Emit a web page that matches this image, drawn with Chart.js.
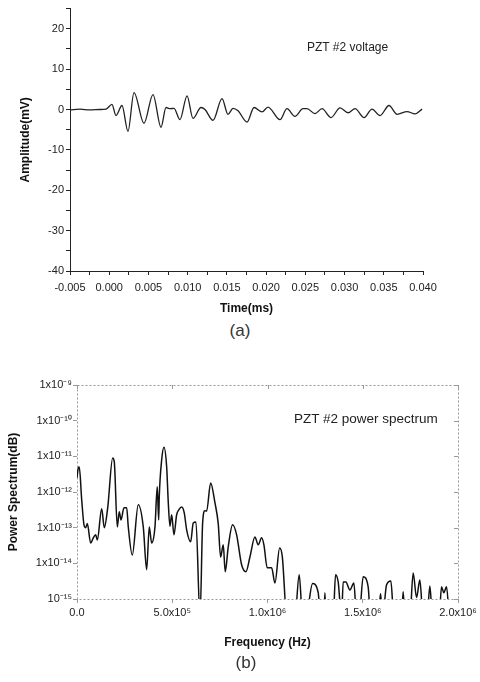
<!DOCTYPE html>
<html>
<head>
<meta charset="utf-8">
<script src="https://cdn.jsdelivr.net/npm/chart.js@4.4.1/dist/chart.umd.min.js"></script>
<style>
body { margin: 0; background: #fff; width: 480px; height: 682px; position: relative; overflow: hidden; font-family: "Liberation Sans", Arial, sans-serif; }
canvas { position: absolute; left: 0; }
.note { position: absolute; color: #222; white-space: nowrap; }
.cap { position: absolute; font-size: 17px; color: #333; transform: translateX(-50%); }
</style>
</head>
<body>
<canvas id="waveChart" width="480" height="320" style="top:0"></canvas>
<canvas id="spectrumChart" width="480" height="310" style="top:345px"></canvas>
<div class="note" style="left:307px;top:40px;font-size:12px">PZT #2 voltage</div>
<div class="note" style="left:294px;top:411px;font-size:13.5px">PZT #2 power spectrum</div>
<div class="cap" style="left:240px;top:321px">(a)</div>
<div class="cap" style="left:246px;top:653px">(b)</div>
<script>
// (a) time signal
const timeMs = [-0.005, -0.0037, -0.0025, -0.0012, -0.0004, 0.00035, 0.00086, 0.00163, 0.00239, 0.00316,
    0.00443, 0.00558, 0.0066, 0.00724, 0.00775, 0.00826, 0.00902, 0.00992, 0.01068, 0.0117,
    0.01221, 0.01323, 0.01438, 0.01514, 0.01578, 0.01642, 0.01757, 0.01846, 0.01948, 0.02024,
    0.02177, 0.02266, 0.02368, 0.0247, 0.02521, 0.02623, 0.02713, 0.02827, 0.02942, 0.03044,
    0.03134, 0.03248, 0.0335, 0.03452, 0.03567, 0.03669, 0.03797, 0.03899, 0.03989];
const amplitude = [-0.1, 0.1, -0.1, 0.0, 0.1, 1.3, -1.5, 1.0, -5.4, 4.2,
    -3.4, 3.7, -4.4, 0.5, 0.2, 0.3, -2.5, 3.4, -2.2, 0.5,
    0.0, -2.7, 2.7, -1.2, 0.3, -0.3, -3.1, 0.5, -0.6, 0.6,
    -2.5, 0.2, -1.7, 0.2, 0.2, -1.0, 0.2, -2.0, 0.4, -0.8,
    0.2, -2.0, 0.1, -1.5, 1.0, -1.2, -0.5, -1.1, 0.1];

// (b) power spectrum
const freqHz = [0, 6800, 12000, 24700, 36700, 45600, 54000, 71900, 85500, 98100,
    106500, 129600, 143200, 161100, 187300, 195700, 211500, 221900, 230900, 246600,
    260800, 269200, 290200, 321600, 347900, 365700, 379400, 391900, 409300, 421300,
    428700, 431800, 444400, 456500, 470700, 479000, 488000, 496900, 509000, 523100,
    535200, 549400, 563000, 575600, 596600, 610200, 624400, 645800, 659500, 671600,
    680500, 701500, 724100, 741400, 754000, 767600, 778100, 793900, 816900, 837900,
    864100, 886700, 907700, 934000, 951300, 969100, 981200, 998500, 1021600, 1039000,
    1063800, 1077400, 1101900, 1143800, 1166400, 1184200, 1201600, 1236700, 1266100, 1278700,
    1296000, 1301300, 1306500, 1344800, 1357400, 1371000, 1388900, 1397300, 1411400, 1432400,
    1453400, 1467600, 1481200, 1502200, 1528400, 1541000, 1580900, 1593500, 1604000, 1625000,
    1647600, 1663300, 1703700, 1712100, 1721000, 1747300, 1764600, 1782400, 1799700, 1817000,
    1838000, 1852200, 1866300, 1900900, 1913500, 1925600, 1939800, 1953400];
const power = [2.5e-12, 4.7e-12, 5.0e-12, 6.0e-13, 1.2e-13, 1.0e-13, 1.3e-13, 3.7e-14, 5.2e-14, 6.3e-14,
    4.5e-14, 3.4e-13, 1.0e-13, 3.6e-13, 9.0e-12, 7.0e-12, 1.05e-13, 2.8e-13, 1.65e-13, 3.6e-13,
    3.6e-13, 1.05e-13, 1.7e-14, 4.4e-13, 1.05e-13, 6.6e-15, 1.05e-13, 3.7e-14, 1.05e-13, 1.4e-12,
    1.65e-13, 7.3e-13, 7.9e-12, 1.8e-11, 5.0e-12, 5.3e-13, 1.1e-13, 2.3e-13, 6.3e-14, 2.3e-13,
    3.2e-13, 3.8e-13, 2.6e-13, 8.7e-14, 4.0e-14, 1.36e-13, 1.45e-13, 3e-16, 1.36e-13, 3.0e-13,
    2.9e-13, 1.8e-12, 5.0e-13, 1.3e-13, 1.5e-14, 3.3e-14, 5.8e-15, 2.9e-14, 1.2e-13, 6.3e-14,
    9.1e-15, 5.8e-15, 1.5e-14, 5.5e-14, 3.3e-14, 5.2e-14, 3.3e-14, 7.5e-15, 7.5e-15, 2.8e-15,
    2.7e-14, 1.6e-14, 3e-16, 3e-16, 4.8e-15, 3e-16, 3e-16, 2.7e-15, 1.5e-15, 3e-16,
    3e-16, 1.5e-15, 3e-16, 3e-16, 4.8e-15, 3.0e-15, 3e-16, 3.0e-15, 3.0e-15, 1.8e-15,
    2.8e-15, 3e-16, 3e-16, 4.2e-15, 2.2e-15, 3e-16, 3e-16, 1.4e-15, 3e-16, 2.5e-15,
    3.2e-15, 3e-16, 3e-16, 1.6e-15, 3e-16, 3e-16, 5.4e-15, 1.1e-15, 3.4e-15, 3e-16,
    3e-16, 2.3e-15, 3e-16, 3e-16, 2.2e-15, 1.5e-15, 2.2e-15, 3e-16];

const powerTicks = [1e-15, 1e-14, 1e-13, 1e-12, 1e-11, 1e-10, 1e-9];
const powerTickLabels = ["10⁻¹⁵", "1x10⁻¹⁴", "1x10⁻¹³", "1x10⁻¹²", "1x10⁻¹¹", "1x10⁻¹⁰", "1x10⁻⁹"];
const freqTicks = [0, 500000, 1000000, 1500000, 2000000];
const freqTickLabels = ["0.0", "5.0x10⁵", "1.0x10⁶", "1.5x10⁶", "2.0x10⁶"];

Chart.defaults.font.family = '"Liberation Sans", Arial, sans-serif';
Chart.defaults.font.size = 11;
Chart.defaults.color = "#222";

const titleFont = { size: 12, weight: "bold" };

// TIME SIGNAL
new Chart(document.getElementById("waveChart"), {
    type: "line",
    data: {
        datasets: [{
            data: timeMs.map((t, i) => ({ x: t, y: amplitude[i] })),
            borderColor: "#222",
            borderWidth: 1.3,
            pointRadius: 0,
            cubicInterpolationMode: "monotone"
        }]
    },
    options: {
        responsive: false,
        animation: false,
        layout: { padding: { left: 18, top: 7, right: 57, bottom: 0 } },
        plugins: { legend: { display: false }, tooltip: { enabled: false } },
        scales: {
            x: {
                type: "linear",
                min: -0.005,
                max: 0.040,
                afterFit: s => { s.height = 49; },
                grid: { drawOnChartArea: false, tickLength: 4, color: "#222" },
                border: { color: "#222", width: 1 },
                ticks: {
                    stepSize: 0.0025,
                    maxRotation: 0,
                    autoSkip: false,
                    padding: 6,
                    callback: v => Math.round(v / 0.0025) % 2 === 0 ? v.toFixed(3) : ""
                },
                title: { display: true, text: "Time(ms)", font: titleFont, color: "#111", padding: { top: 0, bottom: 4 } }
            },
            y: {
                min: -40,
                max: 25,
                afterFit: s => { s.width = 52; },
                grid: { drawOnChartArea: false, tickLength: 4, color: "#222" },
                border: { color: "#222", width: 1 },
                ticks: {
                    stepSize: 5,
                    padding: 2,
                    callback: v => v % 10 === 0 ? String(v) : ""
                },
                title: { display: true, text: "Amplitude(mV)", font: titleFont, color: "#111", padding: 0 }
            }
        }
    }
});

// dotted frame with inner ticks on top and right
const dottedFrame = {
    id: "dottedFrame",
    beforeDatasetsDraw(chart) {
        const { ctx, chartArea: a, scales } = chart;
        ctx.save();
        ctx.strokeStyle = "#999";
        ctx.lineWidth = 1;
        ctx.setLineDash([2, 2]);
        ctx.strokeRect(a.left + 0.5, a.top + 0.5, a.right - a.left, a.bottom - a.top);
        ctx.setLineDash([]);
        ctx.beginPath();
        scales.x.ticks.forEach(t => {
            const px = Math.round(scales.x.getPixelForValue(t.value)) + 0.5;
            ctx.moveTo(px, a.top);
            ctx.lineTo(px, a.top + 4);
        });
        scales.y.ticks.forEach(t => {
            const py = Math.round(scales.y.getPixelForValue(t.value)) + 0.5;
            ctx.moveTo(a.right, py);
            ctx.lineTo(a.right - 4, py);
        });
        ctx.stroke();
        ctx.restore();
    }
};

// POWER SPECTRUM
new Chart(document.getElementById("spectrumChart"), {
    type: "line",
    data: {
        datasets: [{
            data: freqHz.map((f, i) => ({ x: f, y: power[i] })),
            borderColor: "#111",
            borderWidth: 1.5,
            pointRadius: 0,
            cubicInterpolationMode: "monotone",
            clip: 0
        }]
    },
    options: {
        responsive: false,
        animation: false,
        layout: { padding: { left: 6, top: 40, right: 22, bottom: 0 } },
        plugins: { legend: { display: false }, tooltip: { enabled: false } },
        scales: {
            x: {
                type: "linear",
                min: 0,
                max: 2000000,
                afterFit: s => { s.height = 56; },
                afterBuildTicks: s => { s.ticks = freqTicks.map(v => ({ value: v })); },
                grid: { drawOnChartArea: false, tickLength: 4, color: "#999" },
                border: { display: false },
                ticks: {
                    maxRotation: 0,
                    autoSkip: false,
                    padding: 3,
                    callback: (v, i) => freqTickLabels[i]
                },
                title: { display: true, text: "Frequency (Hz)", font: titleFont, color: "#111", padding: { top: 0, bottom: 5 } }
            },
            y: {
                type: "logarithmic",
                min: 1e-15,
                max: 1e-9,
                afterFit: s => { s.width = 71; },
                afterBuildTicks: s => { s.ticks = powerTicks.map(v => ({ value: v })); },
                grid: { drawOnChartArea: false, tickLength: 4, color: "#999" },
                border: { display: false },
                ticks: {
                    padding: 1,
                    autoSkip: false,
                    callback: (v, i) => powerTickLabels[i]
                },
                title: { display: true, text: "Power Spectrum(dB)", font: titleFont, color: "#111", padding: 0 }
            }
        }
    },
    plugins: [dottedFrame]
});
</script>
</body>
</html>
